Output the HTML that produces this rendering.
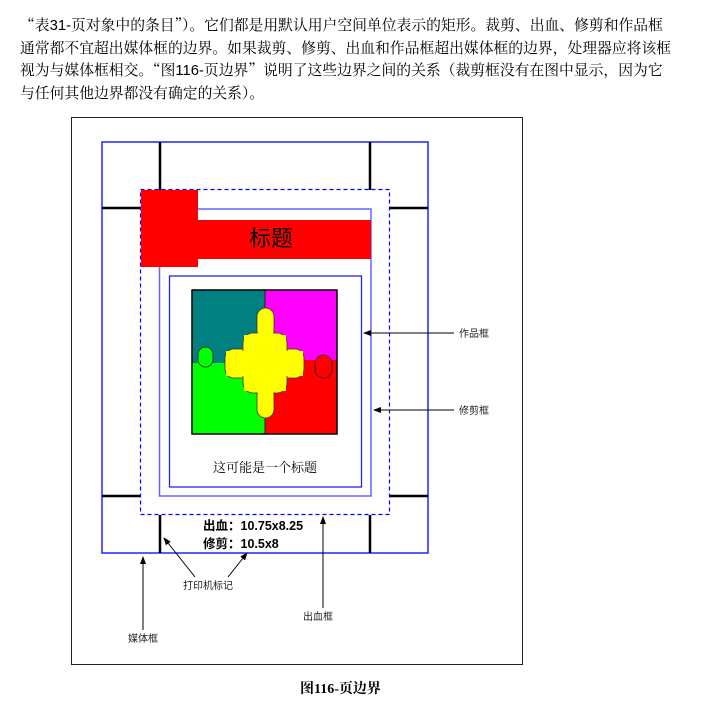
<!DOCTYPE html>
<html><head><meta charset="utf-8"><style>
body{margin:0;background:#fff;width:711px;height:705px;overflow:hidden;position:relative;font-family:"Liberation Serif","Noto Serif CJK SC","Noto Sans CJK SC",serif}
.t{position:absolute;left:20px;top:14px;font-size:14.8px;line-height:22px;color:#000;white-space:nowrap;font-family:"Noto Serif CJK SC",serif}
.t b{font-weight:normal;font-family:"Liberation Sans",sans-serif}
svg{position:absolute;left:0;top:0}
</style></head><body>
<div class="t">“表<b>31-</b>页对象中的条目”）。它们都是用默认用户空间单位表示的矩形。裁剪、出血、修剪和作品框<br>通常都不宜超出媒体框的边界。如果裁剪、修剪、出血和作品框超出媒体框的边界，处理器应将该框<br>视为与媒体框相交。“图<b>116-</b>页边界”说明了这些边界之间的关系（裁剪框没有在图中显示，因为它<br>与任何其他边界都没有确定的关系）。</div>
<svg width="711" height="705" xmlns="http://www.w3.org/2000/svg" font-family="Liberation Sans, Noto Sans CJK SC, sans-serif">
<defs><marker id="a" markerWidth="8" markerHeight="6" refX="7" refY="3" orient="auto"><path d="M0,0 L8,3 L0,6 z" fill="#000"/></marker></defs>
<rect x="71.5" y="117.5" width="451" height="547" fill="none" stroke="#222" stroke-width="1"/>
<rect x="102" y="142" width="326" height="411" fill="none" stroke="#22f" stroke-width="1.5"/>
<g stroke="#000" stroke-width="2.5">
<line x1="160" y1="142" x2="160" y2="190"/><line x1="370" y1="142" x2="370" y2="190"/>
<line x1="102" y1="208" x2="140" y2="208"/><line x1="390" y1="208" x2="428" y2="208"/>
<line x1="102" y1="496" x2="140" y2="496"/><line x1="390" y1="496" x2="428" y2="496"/>
<line x1="160" y1="515" x2="160" y2="553"/><line x1="370" y1="515" x2="370" y2="553"/>
</g>
<rect x="140.5" y="189.5" width="249" height="325" fill="none" stroke="#00f" stroke-width="1.2" stroke-dasharray="4,3"/>
<rect x="159.5" y="209" width="211.5" height="287" fill="none" stroke="#66f" stroke-width="1.5"/>
<rect x="169.5" y="276" width="192" height="211" fill="none" stroke="#22f" stroke-width="1.3"/>
<rect x="141" y="190" width="57" height="77" fill="#f00"/>
<rect x="198" y="220" width="173" height="39" fill="#f00"/>
<text x="271" y="246" font-size="22" text-anchor="middle" fill="#000">标题</text>
<rect x="192" y="290" width="73" height="73" fill="#008080"/>
<rect x="265" y="290" width="72" height="70" fill="#f0f"/>
<rect x="192" y="363" width="73" height="71" fill="#0f0"/>
<rect x="265" y="360" width="72" height="74" fill="#f00"/>
<rect x="198" y="347" width="15" height="20" rx="7.5" fill="#0f0" stroke="#222" stroke-width="0.8"/>
<rect x="315" y="355" width="17" height="23" rx="8.5" fill="#f00" stroke="#222" stroke-width="0.8"/>
<line x1="265" y1="290" x2="265" y2="434" stroke="#222" stroke-width="1"/>
<g fill="#ff0" stroke="#333" stroke-width="0.8">
<rect x="257" y="308" width="17" height="40" rx="8.5"/>
<rect x="257" y="380" width="17" height="38" rx="8.5"/>
<rect x="225" y="349" width="79" height="29" rx="9"/>
<rect x="243" y="333" width="44" height="60" rx="10"/>
</g>
<g fill="#ff0"><rect x="258" y="318" width="15" height="90"/><rect x="226" y="351" width="77" height="25"/><rect x="244" y="335" width="42" height="56"/></g>
<rect x="192" y="290" width="145" height="144" fill="none" stroke="#000" stroke-width="1.5"/>
<text x="265" y="472" font-size="13" text-anchor="middle" font-family="Liberation Serif, Noto Serif CJK SC, serif">这可能是一个标题</text>
<g stroke="#000" stroke-width="1" fill="none" marker-end="url(#a)">
<line x1="454" y1="333" x2="364" y2="333"/>
<line x1="454" y1="410" x2="374" y2="410"/>
<line x1="195" y1="577" x2="164" y2="538"/>
<line x1="228" y1="577" x2="247" y2="553"/>
<line x1="323" y1="608" x2="323" y2="517"/>
<line x1="143" y1="630" x2="143" y2="557"/>
</g>
<g font-size="10" fill="#222">
<text x="459" y="337">作品框</text>
<text x="459" y="414">修剪框</text>
<text x="183" y="589">打印机标记</text>
<text x="303" y="620">出血框</text>
<text x="128" y="642">媒体框</text>
</g>
<g font-size="12.5" font-weight="bold">
<text x="203" y="530">出血：10.75x8.25</text>
<text x="203" y="548">修剪：10.5x8</text>
</g>
<text x="300" y="693" font-size="14" font-weight="bold" font-family="Liberation Serif, Noto Serif CJK SC, serif">图116-页边界</text>
</svg>
</body></html>
